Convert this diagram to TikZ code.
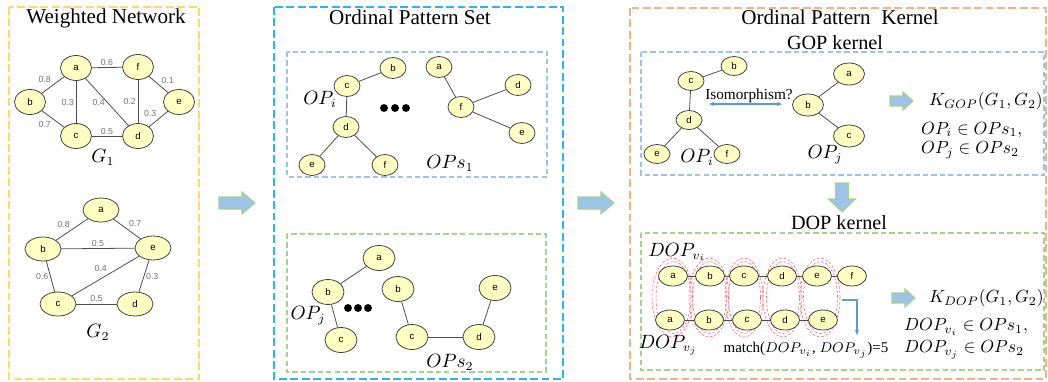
\documentclass[tikz,border=0pt]{standalone}
\usepackage{fontspec}
\setmainfont{Liberation Serif}
\setsansfont{Liberation Sans}
\usetikzlibrary{shapes.geometric,arrows.meta}

\definecolor{netyellow}{RGB}{255,217,102}
\definecolor{setcyan}{RGB}{46,180,235}
\definecolor{kerorange}{RGB}{244,177,131}
\definecolor{opblue}{RGB}{157,195,230}
\definecolor{opgreen}{RGB}{169,209,142}
\definecolor{vtxfill}{RGB}{255,255,196}
\definecolor{ringred}{RGB}{255,110,120}
\definecolor{linkblue}{RGB}{91,155,213}

\tikzset{
  vtx/.style={ellipse,draw=black!75,fill=vtxfill,inner sep=0pt,line width=.45pt,
    font=\sffamily\fontsize{5.5}{6}\selectfont},
  wt/.style={font=\sffamily\fontsize{5}{5}\selectfont,text=black!55,inner sep=1pt},
  link/.style={draw=black!70,line width=.45pt},
  panel/.style={line width=1.4pt,dash pattern=on 4.5pt off 2pt},
  subpanel/.style={line width=.8pt,dash pattern=on 3pt off 1.8pt},
  title/.style={font=\fontsize{12}{14}\selectfont},
  subtitle/.style={font=\fontsize{11.5}{13}\selectfont},
  mlabel/.style={font=\fontsize{10.5}{12}\selectfont},
  klabel/.style={font=\fontsize{9.6}{12}\selectfont,anchor=west},
  bigarrow/.style={draw=opgreen,fill=opblue,line width=.6pt,line join=miter},
  ring/.style={ellipse,draw=ringred,line width=.35pt,dash pattern=on 1.5pt off 1pt,inner sep=0pt},
  dot/.style={circle,fill=black,inner sep=0pt,minimum size=4.5pt}
}

\begin{document}
\begin{tikzpicture}[x=0.02cm,y=-0.02cm]
\useasboundingbox (0,0) rectangle (1048,382);

% frames
\draw[panel,netyellow] (9,7) rectangle (199,379);
\draw[panel,setcyan] (274,7) rectangle (563,379);
\draw[panel,kerorange] (630,8) rectangle (1046,379);
\draw[subpanel,opblue] (287,52) rectangle (547,177);
\draw[subpanel,opgreen] (287,234) rectangle (546,372);
\draw[subpanel,opblue] (641,52) rectangle (1044,175);
\draw[subpanel,opgreen] (641,233) rectangle (1044,370);

\node[title] (tnet) at (106,18) {Weighted Network};
\node[title] (tset) at (410,17) {Ordinal Pattern Set};
\node[title] (tker) at (840,17) {Ordinal Pattern\ \ Kernel};
\node[subtitle] (tgop) at (835,43) {GOP kernel};
\node[subtitle] (tdop) at (839,223) {DOP kernel};

% weighted network G1
\begin{scope}[every node/.style={vtx,minimum width=0.62cm,minimum height=0.5cm}]
  \node (a1) at (76,68) {a};
  \node (f1) at (138,67) {f};
  \node (b1) at (30,102) {b};
  \node (e1) at (179,102) {e};
  \node (c1) at (76,136) {c};
  \node (d1) at (138,136) {d};
\end{scope}

\begin{scope}[every node/.style={wt},every edge/.style={link}]
  \path (a1) edge node[above] {0.6} (f1);
  \path (a1) edge node[above left] {0.8} (b1);
  \path (a1) edge node[left] {0.3} (c1);
  \path (a1) edge node[left] {0.4} (d1);
  \path (f1) edge node[left] {0.2} (d1);
  \path (f1) edge node[above right,pos=.55] {0.1} (e1);
  \path (b1) edge node[below left] {0.7} (c1);
  \path (c1) edge node[above,inner sep=.3pt] {0.5} (d1);
  \path (d1) edge node[above left] {0.3} (e1);
\end{scope}
\node[mlabel] (lg1) at (103,157) {$G_1$};

% weighted network G2
\begin{scope}[every node/.style={vtx,minimum width=0.72cm,minimum height=0.48cm}]
  \node (a2) at (101,210) {a};
  \node (b2) at (43,249) {b};
  \node (e2) at (153,248) {e};
  \node (c2) at (58,304) {c};
  \node (d2) at (135,304) {d};
\end{scope}

\begin{scope}[every node/.style={wt},every edge/.style={link}]
  \path (a2) edge node[above left] {0.8} (b2);
  \path (a2) edge node[above right] {0.7} (e2);
  \path (b2) edge node[above] {0.5} (e2);
  \path (c2) edge node[above left,pos=.55] {0.4} (e2);
  \path (b2) edge node[left] {0.6} (c2);
  \path (d2) edge node[right] {0.3} (e2);
  \path (c2) edge node[above] {0.5} (d2);
\end{scope}
\node[mlabel] (lg2) at (98,332) {$G_2$};

% block arrows
\draw[bigarrow] (219,197) -- (242,197) -- (242,192) -- (255,203) -- (242,214) -- (242,209) -- (219,209) -- cycle;
\draw[bigarrow] (578,197) -- (601,197) -- (601,192) -- (614,203) -- (601,214) -- (601,209) -- (578,209) -- cycle;

% ordinal pattern set OPs1
\begin{scope}[every node/.style={vtx,minimum width=0.52cm,minimum height=0.42cm}]
  \node (p1b) at (393,68) {b};
  \node (p1c) at (347,86) {c};
  \node (p1d) at (346,127) {d};
  \node (p1e) at (312,165) {e};
  \node (p1f) at (385,165) {f};
  \node (q1a) at (439,67) {a};
  \node (q1f) at (461,107) {f};
  \node (q1d) at (518,85) {d};
  \node (q1e) at (522,133) {e};
\end{scope}

\begin{scope}[every edge/.style={link}]
  \path (p1c) edge (p1b);
  \path (p1c) edge (p1d);
  \path (p1d) edge (p1e);
  \path (p1d) edge (p1f);
  \path (q1f) edge (q1a);
  \path (q1f) edge (q1d);
  \path (q1f) edge (q1e);
\end{scope}

\begin{scope}[every node/.style={dot}]
  \node (k1) at (384,108) {};
  \node (k2) at (395,108) {};
  \node (k3) at (406,108) {};
\end{scope}
\node[mlabel] (lopi) at (320,99) {$OP_i$};
\node[mlabel] (lops1) at (450,163) {$OPs_1$};

% ordinal pattern set OPs2
\begin{scope}[every node/.style={vtx,minimum width=0.64cm,minimum height=0.5cm}]
  \node (r2a) at (379,258) {a};
  \node (r2b) at (328,292) {b};
  \node (r2c) at (341,340) {c};
  \node (s2b) at (398,289) {b};
  \node (s2c) at (412,337) {c};
  \node (s2d) at (479,337) {d};
  \node (s2e) at (495,288) {e};
\end{scope}

\begin{scope}[every edge/.style={link}]
  \path (r2a) edge (r2b);
  \path (r2b) edge (r2c);
  \path (s2b) edge (s2c);
  \path (s2c) edge (s2d);
  \path (s2d) edge (s2e);
\end{scope}

\begin{scope}[every node/.style={dot}]
  \node (k4) at (348,308) {};
  \node (k5) at (358,308) {};
  \node (k6) at (368,308) {};
\end{scope}
\node[mlabel] (lopj) at (308,316) {$OP_j$};
\node[mlabel] (lops2) at (450,362) {$OPs_2$};

% GOP kernel
\begin{scope}[every node/.style={vtx,minimum width=0.52cm,minimum height=0.38cm}]
  \node (gb) at (734,66) {b};
  \node (gc) at (691,81) {c};
  \node (gd) at (689,120) {d};
  \node (ge) at (657,154) {e};
  \node (gf) at (727,154) {f};
\end{scope}
\begin{scope}[every node/.style={vtx,minimum width=0.62cm,minimum height=0.44cm}]
  \node (ha) at (849,74) {a};
  \node (hb) at (808,105) {b};
  \node (hc) at (849,136) {c};
\end{scope}

\begin{scope}[every edge/.style={link}]
  \path (gc) edge (gb);
  \path (gc) edge (gd);
  \path (gd) edge (ge);
  \path (gd) edge (gf);
  \path (hb) edge (ha);
  \path (hb) edge (hc);
\end{scope}

\node[mlabel] (gopi) at (697,157) {$OP_i$};
\node[mlabel] (gopj) at (825,155) {$OP_j$};
\node[font=\fontsize{8.7}{10}\selectfont] (iso) at (749,96) {Isomorphism?};
\coordinate (isol) at (709,104);
\coordinate (isor) at (782,104);
\draw[linkblue,line width=.6pt,{Stealth[length=3pt,width=2.5pt]}-{Stealth[length=3pt,width=2.5pt]}] (isol) -- (isor);

\draw[bigarrow] (890,96) -- (903,96) -- (903,92) -- (913,101) -- (903,110) -- (903,106) -- (890,106) -- cycle;
\node[klabel] (kgop) at (923,101) {$K_{GOP}(G_1,G_2)$};
\node[klabel] (gin1) at (915,130) {$OP_i\in OPs_1,$};
\node[klabel] (gin2) at (915,150) {$OP_j\in OPs_2$};

\draw[bigarrow] (835.5,183) -- (848.5,183) -- (848.5,199) -- (855.5,199) -- (842,212) -- (828.5,199) -- (835.5,199) -- cycle;

% DOP kernel
\begin{scope}[every node/.style={ring}]
  \node (o1) at (672.5,297.5) [minimum width=0.82cm,minimum height=1.58cm] {};
  \node (o2) at (709,297.5) [minimum width=0.8cm,minimum height=1.58cm] {};
  \node (o3) at (744,297.5) [minimum width=0.76cm,minimum height=1.58cm] {};
  \node (o4) at (782.5,297.5) [minimum width=0.78cm,minimum height=1.58cm] {};
  \node (o5) at (820,297.5) [minimum width=0.8cm,minimum height=1.58cm] {};
  \node (i1) at (673.5,297.5) [minimum width=0.7cm,minimum height=1.44cm] {};
  \node (i2) at (709.5,297.5) [minimum width=0.68cm,minimum height=1.44cm] {};
  \node (i3) at (744.5,297.5) [minimum width=0.64cm,minimum height=1.44cm] {};
  \node (i4) at (783,297.5) [minimum width=0.66cm,minimum height=1.44cm] {};
  \node (i5) at (820.5,297.5) [minimum width=0.68cm,minimum height=1.44cm] {};
\end{scope}

\begin{scope}[every node/.style={vtx,minimum width=0.58cm,minimum height=0.4cm}]
  \node (ua) at (673,276) {a};
  \node (ub) at (710,276) {b};
  \node (uc) at (744,276) {c};
  \node (ud) at (782,276) {d};
  \node (ue) at (817,276) {e};
  \node (uf) at (852,276) {f};
  \node (wa) at (670,320) {a};
  \node (wb) at (709,320) {b};
  \node (wc) at (747,320) {c};
  \node (wd) at (785,320) {d};
  \node (we) at (823,320) {e};
\end{scope}

\begin{scope}[every edge/.style={link}]
  \path (ua) edge (ub);
  \path (ub) edge (uc);
  \path (uc) edge (ud);
  \path (ud) edge (ue);
  \path (ue) edge (uf);
  \path (wa) edge (wb);
  \path (wb) edge (wc);
  \path (wc) edge (wd);
  \path (wd) edge (we);
\end{scope}

\node[mlabel] (dopi) at (677,252) {$DOP_{v_i}$};
\node[mlabel] (dopj) at (668,345) {$DOP_{v_j}$};
\coordinate (mfrom) at (842,300);
\coordinate (mto) at (857,335);
\draw[linkblue,line width=.6pt,-{Stealth[length=3pt,width=2.5pt]}] (mfrom) -| (mto);
\node[font=\fontsize{8.5}{10}\selectfont] (match) at (806,350) {match($DOP_{v_i}$, $DOP_{v_j}$)=5};

\draw[bigarrow] (892,293) -- (905,293) -- (905,289) -- (915,298) -- (905,307) -- (905,303) -- (892,303) -- cycle;
\node[klabel] (kdop) at (923,298) {$K_{DOP}(G_1,G_2)$};
\node[klabel] (din1) at (898,327) {$DOP_{v_i}\in OPs_1,$};
\node[klabel] (din2) at (898,350) {$DOP_{v_j}\in OPs_2$};

\end{tikzpicture}
\end{document}
